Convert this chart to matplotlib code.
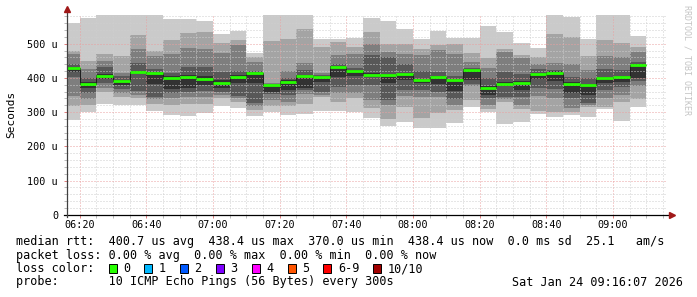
import numpy as np
import pandas as pd
import matplotlib
matplotlib.use('Agg')
from matplotlib import pyplot as plt
import matplotlib.dates as mdates
from matplotlib.patches import Rectangle

W, H = 697, 297
MONO = 'DejaVu Sans Mono'

# step edges of the rrd rows (5 minutes each)
step_edges = pd.date_range('2026-01-24 06:15', '2026-01-24 09:10', freq='5min')
t_start = pd.Timestamp('2026-01-24 06:16:07')
t_stop = pd.Timestamp('2026-01-24 09:16:07')

# 10 sorted ping times per step, microseconds
pings = [
    [277, 318, 347, 403, 418, 433, 441, 470, 480, 560],
    [300, 320, 338, 357, 372, 388, 400, 427, 450, 576],
    [323, 360, 370, 386, 398, 412, 432, 450, 470, 600],
    [322, 343, 355, 368, 378, 395, 405, 415, 464, 610],
    [320, 340, 351, 363, 414, 421, 443, 484, 525, 600],
    [304, 323, 337, 345, 382, 418, 425, 464, 480, 600],
    [293, 320, 340, 355, 369, 405, 415, 471, 511, 571],
    [289, 323, 345, 358, 372, 408, 433, 487, 532, 571],
    [297, 325, 343, 362, 378, 405, 433, 486, 533, 568],
    [317, 340, 350, 360, 370, 395, 418, 472, 502, 530],
    [311, 330, 340, 348, 386, 408, 420, 495, 510, 537],
    [289, 306, 318, 326, 386, 418, 421, 448, 462, 474],
    [300, 318, 335, 352, 360, 380, 382, 386, 508, 620],
    [292, 318, 330, 350, 365, 394, 400, 421, 513, 620],
    [296, 324, 354, 365, 372, 410, 424, 444, 542, 620],
    [302, 343, 350, 360, 389, 405, 408, 414, 491, 513],
    [304, 330, 355, 373, 402, 434, 442, 467, 506, 513],
    [300, 340, 355, 378, 405, 422, 430, 470, 490, 518],
    [284, 311, 335, 380, 402, 415, 466, 500, 535, 575],
    [258, 280, 320, 335, 385, 412, 462, 475, 500, 568],
    [272, 316, 347, 365, 395, 415, 441, 470, 500, 542],
    [253, 282, 343, 365, 384, 398, 421, 467, 484, 513],
    [253, 298, 343, 360, 383, 407, 418, 481, 496, 538],
    [267, 306, 320, 337, 363, 398, 405, 471, 500, 518],
    [316, 335, 375, 382, 394, 425, 428, 447, 472, 516],
    [301, 310, 321, 340, 350, 375, 400, 428, 457, 552],
    [265, 330, 338, 345, 375, 387, 418, 477, 486, 535],
    [272, 310, 320, 343, 364, 391, 413, 457, 467, 501],
    [296, 302, 347, 370, 398, 415, 425, 440, 462, 487],
    [287, 301, 340, 369, 392, 420, 423, 444, 528, 620],
    [291, 300, 311, 340, 355, 388, 404, 440, 520, 577],
    [285, 316, 320, 327, 350, 383, 400, 423, 464, 513],
    [308, 316, 340, 365, 386, 404, 425, 464, 511, 620],
    [275, 330, 350, 374, 389, 406, 423, 462, 503, 620],
    [316, 337, 375, 390, 400, 442, 447, 477, 491, 522],
]
median = [430, 382, 405, 391, 418, 414, 400, 403, 396, 386, 402, 415, 378, 388,
          405, 402, 431, 420, 409, 408, 411, 393, 402, 393, 423, 370, 383, 386,
          411, 415, 382, 378, 399, 402, 438.4]

smoke_colors = ['#cacaca', '#a4a4a4', '#7e7e7e', '#585858', '#323232']
loss_labels = ['0', '1', '2', '3', '4', '5', '6-9', '10/10']
loss_colors = ['#26ff00', '#00b8ff', '#0059ff', '#7e00ff', '#ff00ff',
               '#ff5500', '#ff0000', '#a10000']

legend_lines = [
    'median rtt:  400.7 us avg  438.4 us max  370.0 us min  438.4 us now  0.0 ms sd  25.1   am/s',
    'packet loss: 0.00 % avg  0.00 % max  0.00 % min  0.00 % now',
]
probe_text = 'probe:       10 ICMP Echo Pings (56 Bytes) every 300s'
stamp_text = 'Sat Jan 24 09:16:07 2026'

p = np.array(pings, dtype=float)
med = np.array(median)
edges = mdates.date2num(step_edges.to_pydatetime())

fig = plt.figure(figsize=(W / 100, H / 100), dpi=100, facecolor='white')
ax = fig.add_axes([66.7 / W, 1 - 214.7 / H, 600 / W, 200 / H])

# smoke, outer pair first
for i, c in enumerate(smoke_colors):
    ax.stairs(p[:, 9 - i], edges, baseline=p[:, i], fill=True, color=c,
              linewidth=0, zorder=1)

ax.stairs(med, edges, baseline=None, color='#202020', linewidth=0.72, zorder=3)
ax.hlines(med, edges[:-1], edges[1:], color=loss_colors[0], linewidth=2.0,
          capstyle='butt', zorder=4)

ax.set_xlim(mdates.date2num(t_start.to_pydatetime()), mdates.date2num(t_stop.to_pydatetime()))
ax.set_ylim(0, 585)

ax.xaxis.set_major_locator(mdates.MinuteLocator(byminute=[0, 20, 40]))
ax.xaxis.set_minor_locator(mdates.MinuteLocator(byminute=range(0, 60, 5)))
ax.xaxis.set_major_formatter(mdates.DateFormatter('%H:%M'))
ax.set_yticks(range(0, 501, 100))
ax.set_yticklabels(['0'] + ['%d u' % v for v in range(100, 501, 100)])
ax.set_yticks(range(0, 585, 20), minor=True)

ax.set_axisbelow(False)
ax.grid(which='minor', color='#cfcfcf', linewidth=0.72, dashes=(1, 2))
ax.grid(which='major', color='#eba0a0', linewidth=0.72, dashes=(1, 2))

ax.tick_params(which='both', length=2.2, width=0.72, direction='out')
ax.tick_params(which='minor', colors='#bbbbbb')
ax.tick_params(which='major', colors='#e08080', labelcolor='black', labelsize=7.3)
ax.tick_params(axis='y', which='major', pad=4)
ax.tick_params(axis='x', which='major', pad=1.8)
for lab in ax.get_xticklabels() + ax.get_yticklabels():
    lab.set_family(MONO)

for s in ['top', 'right', 'left', 'bottom']:
    ax.spines[s].set_visible(False)

# axis lines with arrows, rrdtool style
ax.plot([-0.004, 1.004], [0, 0], color='black', linewidth=0.9,
        transform=ax.transAxes, clip_on=False, zorder=5)
ax.plot([0, 0], [-0.01, 1.025], color='#404040', linewidth=0.9,
        transform=ax.transAxes, clip_on=False, zorder=5)
ax.plot([1.008], [0], marker='>', markersize=4, color='#a01818',
        transform=ax.transAxes, clip_on=False, zorder=6)
ax.plot([0], [1.03], marker='^', markersize=4, color='#a01818',
        transform=ax.transAxes, clip_on=False, zorder=6)

fig.text(11 / W, 1 - 114.5 / H, 'Seconds', rotation=90, family=MONO,
         fontsize=8, ha='center', va='center')
fig.text(687.5 / W, 1 - 5 / H, 'RRDTOOL / TOBI OETIKER', rotation=270,
         family=MONO, fontsize=6, color='#c4c4c4', ha='center', va='top')

rows_y = [241, 255, 268.5, 282]
for txt, y in zip(legend_lines, rows_y):
    fig.text(16 / W, 1 - y / H, txt, family=MONO, fontsize=8.5, va='center')
fig.text(16 / W, 1 - rows_y[2] / H, 'loss color:', family=MONO, fontsize=8.5, va='center')
fig.text(16 / W, 1 - rows_y[3] / H, probe_text, family=MONO, fontsize=8.5, va='center')
fig.text(683 / W, 1 - rows_y[3] / H, stamp_text, family=MONO, fontsize=8.5,
         va='center', ha='right')

char_w = 7.1
bx = 108.5
for lbl, col in zip(loss_labels, loss_colors):
    fig.add_artist(Rectangle((bx / W, 1 - (rows_y[2] + 4.5) / H), 8 / W, 9 / H,
                             transform=fig.transFigure, facecolor=col,
                             edgecolor='black', linewidth=0.7))
    fig.text((bx + 14.5) / W, 1 - rows_y[2] / H, lbl, family=MONO,
             fontsize=8.5, va='center')
    bx += 14.5 + len(lbl) * char_w + 2 * char_w

fig.savefig('out.png', dpi=100, facecolor='white')
